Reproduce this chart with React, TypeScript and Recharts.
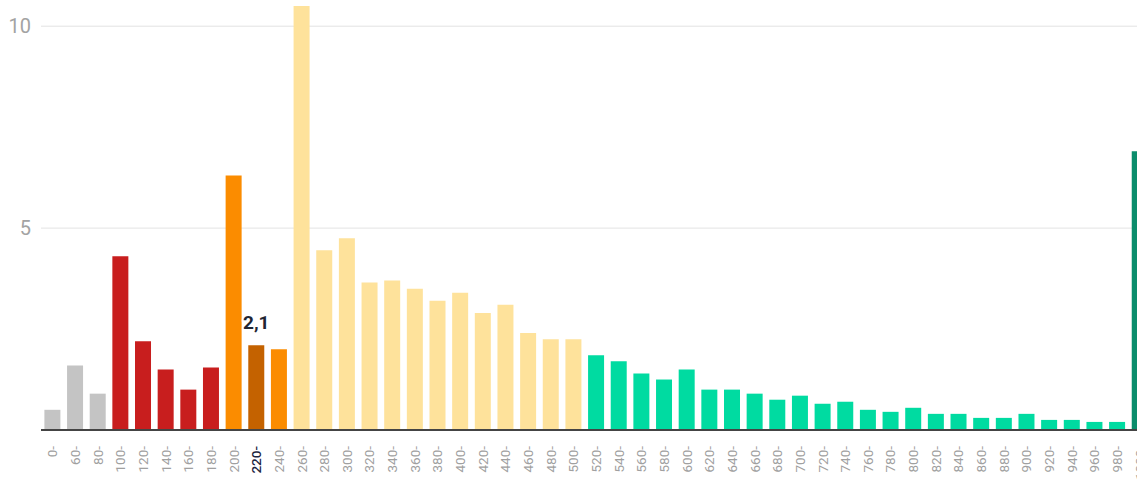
import React from "react";
import { BarChart, Bar, XAxis, YAxis, CartesianGrid, Cell, LabelList } from "recharts";

// bins (lower bound of each range)
const categories = [
  "0-", "60-", "80-", "100-", "120-", "140-", "160-", "180-", "200-", "220-",
  "240-", "260-", "280-", "300-", "320-", "340-", "360-", "380-", "400-", "420-",
  "440-", "460-", "480-", "500-", "520-", "540-", "560-", "580-", "600-", "620-",
  "640-", "660-", "680-", "700-", "720-", "740-", "760-", "780-", "800-", "820-",
  "840-", "860-", "880-", "900-", "920-", "940-", "960-", "980-", "1000-",
];

// share per bin
const shares = [
  0.5, 1.6, 0.9, 4.3, 2.2, 1.5, 1.0, 1.55, 6.3, 2.1,
  2.0, 10.5, 4.45, 4.75, 3.65, 3.7, 3.5, 3.2, 3.4, 2.9,
  3.1, 2.4, 2.25, 2.25, 1.85, 1.7, 1.4, 1.25, 1.5, 1.0,
  1.0, 0.9, 0.75, 0.85, 0.65, 0.7, 0.5, 0.45, 0.55, 0.4,
  0.4, 0.3, 0.3, 0.4, 0.25, 0.25, 0.2, 0.2, 6.9,
];

const yTicks = [5, 10];
const highlighted = "220-";

const data = categories.map((bin, i) => ({ bin, value: shares[i] }));

function barColor(bin: string): string {
  const start = parseInt(bin, 10);
  if (bin === highlighted) return "#c46200";
  if (start < 100) return "#c4c4c4";
  if (start < 200) return "#c81e1e";
  if (start < 260) return "#fb8c00";
  if (start < 520) return "#fee29b";
  if (start < 1000) return "#00dba1";
  return "#0b8d6c";
}

function BinTick(props: any) {
  const { x, y, payload } = props;
  const active = payload.value === highlighted;
  const ty = y + 16;
  return (
    <text
      x={x}
      y={ty}
      transform={`rotate(-90, ${x}, ${ty})`}
      textAnchor="end"
      dominantBaseline="central"
      fontSize={13.5}
      fontFamily="Roboto, sans-serif"
      fill={active ? "#1c2541" : "#a0a0a0"}
      fontWeight={active ? 500 : 400}
    >
      {payload.value}
    </text>
  );
}

function HighlightLabel(props: any) {
  const { x, y, width, value, index } = props;
  if (categories[index] !== highlighted) return null;
  return (
    <text
      x={x + width / 2}
      y={y - 16}
      textAnchor="middle"
      fontSize={19}
      fontWeight={700}
      fontFamily="Roboto, sans-serif"
      fill="#1f2633"
      stroke="#ffffff"
      strokeWidth={3}
      paintOrder="stroke"
    >
      {Number(value).toFixed(1).replace(".", ",")}
    </text>
  );
}

export default function App() {
  return (
    <div
      style={{
        position: "absolute",
        left: 0,
        top: 0,
        width: 1137,
        height: 481,
        overflow: "hidden",
        background: "#fff",
      }}
    >
      <BarChart
        width={1151}
        height={481}
        data={data}
        margin={{ top: 6, right: 0, left: 0, bottom: 0 }}
        barCategoryGap="15%"
      >
        <CartesianGrid vertical={false} stroke="#e3e3e3" horizontalValues={yTicks} />
        <XAxis
          dataKey="bin"
          interval={0}
          height={51}
          tickLine={false}
          tickSize={0}
          tickMargin={0}
          axisLine={{ stroke: "#444444", strokeWidth: 2 }}
          tick={<BinTick />}
        />
        <YAxis
          width={41}
          domain={[0, 10.5]}
          ticks={yTicks}
          axisLine={false}
          tickLine={false}
          tickSize={0}
          tickMargin={10}
          tick={{ fill: "#a3a3a3", fontSize: 20, fontFamily: "Roboto, sans-serif" }}
        />
        <Bar dataKey="value" isAnimationActive={false}>
          {data.map((d) => (
            <Cell key={d.bin} fill={barColor(d.bin)} />
          ))}
          <LabelList dataKey="value" content={<HighlightLabel />} />
        </Bar>
      </BarChart>
    </div>
  );
}
